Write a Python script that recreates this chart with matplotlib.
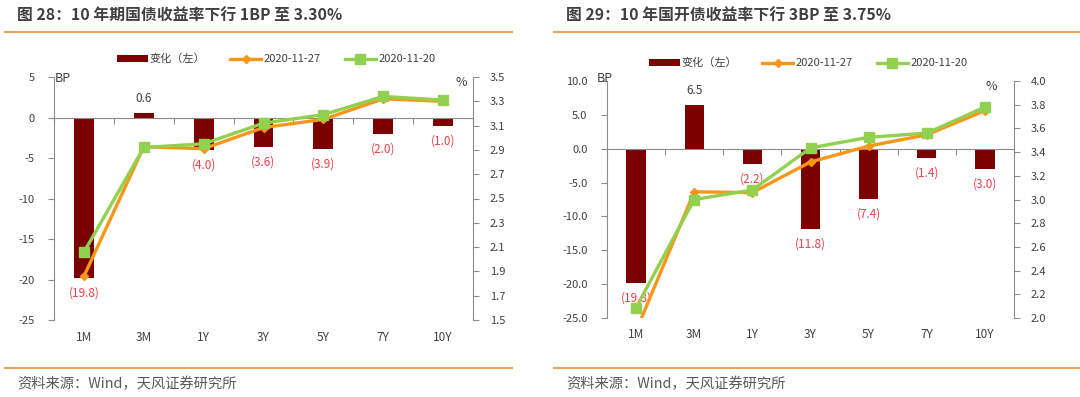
import matplotlib
matplotlib.use('Agg')
import matplotlib.pyplot as plt
import matplotlib.transforms as mtransforms
from matplotlib.lines import Line2D
from matplotlib.patches import Patch
import numpy as np

plt.rcParams['font.family'] = ['Noto Sans CJK SC', 'DejaVu Sans']

# ---------------- data ----------------
categories = ['1M', '3M', '1Y', '3Y', '5Y', '7Y', '10Y']

gz_change = [-19.8, 0.6, -4.0, -3.6, -3.9, -2.0, -1.0]
gz_1127 = [1.86, 2.926, 2.91, 3.084, 3.151, 3.32, 3.30]
gz_1120 = [2.058, 2.92, 2.95, 3.12, 3.19, 3.34, 3.31]

gk_change = [-19.8, 6.5, -2.2, -11.8, -7.4, -1.4, -3.0]
gk_1127 = [1.89, 3.065, 3.058, 3.317, 3.451, 3.546, 3.75]
gk_1120 = [2.088, 3.00, 3.08, 3.435, 3.525, 3.56, 3.78]

series_labels = ['变化（左）', '2020-11-27', '2020-11-20']
titles = ['图 28：10 年期国债收益率下行 1BP 至 3.30%',
          '图 29：10 年国开债收益率下行 3BP 至 3.75%']
source = '资料来源：Wind，天风证券研究所'

# ---------------- style ----------------
W, H = 1080, 397
BAR = '#7B0000'
ORANGE = '#F8961A'
GREEN = '#92D050'
RED = '#EE3F4A'
AX = '#8C8C8C'
TXT = '#404040'
SEP = '#E4A45C'

fig = plt.figure(figsize=(W / 100, H / 100), dpi=100)


def fx(px):
    return px / W


def fy(py):
    return 1 - py / H


def panel(px_l, px_r, py_t, py_b, change, s27, s20, ylim_l, yticks_l, lfmt,
          ylim_r, yticks_r, legend_c, bp_xy, pct_xy, cat_y):
    ax = fig.add_axes([fx(px_l), fy(py_b), fx(px_r - px_l), (py_b - py_t) / H])
    ax2 = ax.twinx()
    x = np.arange(len(categories))
    ax.bar(x, change, width=0.33, color=BAR, zorder=2)
    ax.set_xlim(-0.5, len(categories) - 0.5)
    ax.set_ylim(*ylim_l)
    ax.set_yticks(yticks_l)
    ax.set_yticklabels([lfmt.format(v) for v in yticks_l])
    for s in ['top', 'right']:
        ax.spines[s].set_visible(False)
    ax.spines['left'].set_color(AX)
    ax.spines['bottom'].set_color(AX)
    ax.spines['bottom'].set_position(('data', 0))
    ax.set_xticks(np.arange(-0.5, len(categories), 1))
    ax.tick_params(axis='x', length=4, direction='out', color=AX,
                   labelbottom=False)
    ax.tick_params(axis='y', length=4, direction='out', color=AX,
                   labelsize=8, labelcolor=TXT, pad=10)

    ax2.plot(x, s27, color=ORANGE, lw=2.4, marker='D', ms=4.5, zorder=3)
    ax2.plot(x, s20, color=GREEN, lw=2.4, marker='s', ms=7, zorder=4)
    ax2.set_ylim(*ylim_r)
    ax2.set_yticks(yticks_r)
    ax2.set_yticklabels(['{:.1f}'.format(v) for v in yticks_r])
    for s in ['top', 'left', 'bottom']:
        ax2.spines[s].set_visible(False)
    ax2.spines['right'].set_color(AX)
    ax2.tick_params(axis='y', length=4, direction='out', color=AX,
                    labelsize=8, labelcolor=TXT, pad=8)

    trans = mtransforms.blended_transform_factory(ax.transData, ax.transAxes)
    for i, c in enumerate(categories):
        ax.text(i, cat_y, c, transform=trans, ha='center', va='center',
                fontsize=8.5, color=TXT)

    for i, v in enumerate(change):
        if v < 0:
            ax.annotate('({:.1f})'.format(abs(v)), (i, v), xytext=(0, -15),
                        textcoords='offset pixels', ha='center', va='center',
                        fontsize=8.5, color=RED, zorder=6)
        else:
            ax.annotate('{:.1f}'.format(v), (i, v), xytext=(0, 14),
                        textcoords='offset pixels', ha='center', va='center',
                        fontsize=8.5, color=TXT, zorder=6)

    handles = [Patch(facecolor=BAR, edgecolor='none'),
               Line2D([], [], color=ORANGE, lw=2.4, marker='D', ms=4.5),
               Line2D([], [], color=GREEN, lw=2.4, marker='s', ms=7)]
    fig.legend(handles, series_labels, loc='center', ncol=3,
               bbox_to_anchor=(fx(legend_c[0]), fy(legend_c[1])),
               frameon=False, fontsize=8, handlelength=2.8, handleheight=0.55,
               handletextpad=0.2, columnspacing=2.2, labelcolor=TXT)
    fig.text(fx(bp_xy[0]), fy(bp_xy[1]), 'BP', fontsize=9, color=TXT,
             ha='left', va='center')
    fig.text(fx(pct_xy[0]), fy(pct_xy[1]), '%', fontsize=9, color=TXT,
             ha='left', va='center')


panel(54, 473, 77, 320, gz_change, gz_1127, gz_1120, (-25, 5),
      list(range(-25, 6, 5)), '{:d}', (1.5, 3.5),
      np.round(np.arange(1.5, 3.51, 0.2), 1), (276, 59), (55, 79), (456, 82),
      -0.07)
panel(607, 1014, 81, 318, gk_change, gk_1127, gk_1120, (-25, 10),
      list(np.arange(-25.0, 10.1, 5.0)), '{:.1f}', (2.0, 4.0),
      np.round(np.arange(2.0, 4.01, 0.2), 1), (808, 63), (597, 78), (986, 87),
      -0.068)

# titles, separators, sources
for tx, x0, x1, t in [(17, 5, 512, titles[0]), (566, 554, 1080, titles[1])]:
    fig.text(fx(tx), fy(15), t, fontsize=11.4, fontweight='bold', color=TXT,
             ha='left', va='center')
    fig.add_artist(Line2D([fx(x0), fx(x1)], [fy(32), fy(32)], color=SEP,
                          lw=1.5))
    fig.add_artist(Line2D([fx(x0), fx(x1)], [fy(368), fy(368)], color=SEP,
                          lw=1.5))
    fig.text(fx(tx), fy(384), source, fontsize=10.3, color='#595959',
             ha='left', va='center')

fig.savefig('out.png', dpi=100)
